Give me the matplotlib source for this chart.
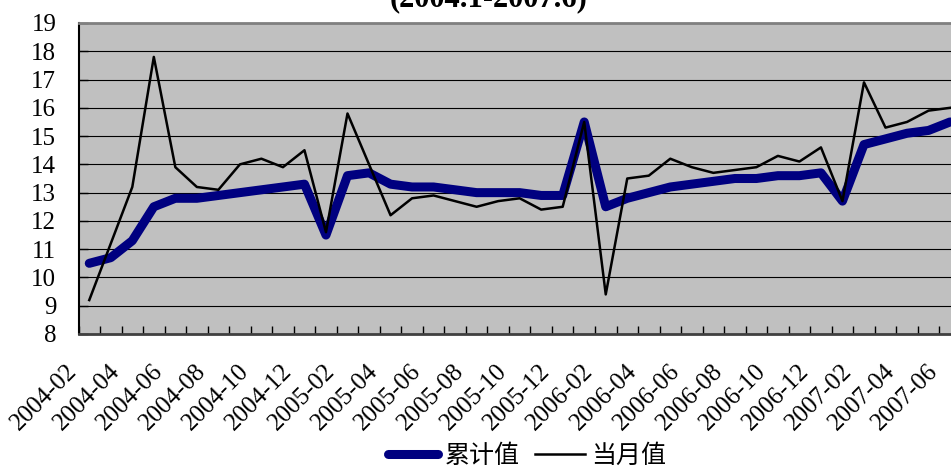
import matplotlib
matplotlib.use("Agg")
import matplotlib.pyplot as plt
import matplotlib.transforms as mtransforms
import numpy as np

# Serif for the numbers, CJK fallback for the legend text.
plt.rcParams['font.family'] = ['Liberation Serif', 'Noto Sans CJK SC']

TITLE = "(2004.1-2007.6)"
MONTHS = [
    "2004-02", "2004-03", "2004-04", "2004-05", "2004-06", "2004-07",
    "2004-08", "2004-09", "2004-10", "2004-11", "2004-12",
    "2005-01", "2005-02", "2005-03", "2005-04", "2005-05", "2005-06",
    "2005-07", "2005-08", "2005-09", "2005-10", "2005-11", "2005-12",
    "2006-01", "2006-02", "2006-03", "2006-04", "2006-05", "2006-06",
    "2006-07", "2006-08", "2006-09", "2006-10", "2006-11", "2006-12",
    "2007-01", "2007-02", "2007-03", "2007-04", "2007-05", "2007-06",
]
# Cumulative value (累计值).
CUMULATIVE = [
    10.5, 10.7, 11.3, 12.5, 12.8, 12.8, 12.9, 13.0, 13.1, 13.2, 13.3,
    11.5, 13.6, 13.7, 13.3, 13.2, 13.2, 13.1, 13.0, 13.0, 13.0, 12.9, 12.9,
    15.5, 12.5, 12.8, 13.0, 13.2, 13.3, 13.4, 13.5, 13.5, 13.6, 13.6, 13.7,
    12.7, 14.7, 14.9, 15.1, 15.2, 15.5,
]
# Monthly value (当月值).
MONTHLY = [
    9.2, 11.2, 13.2, 17.8, 13.9, 13.2, 13.1, 14.0, 14.2, 13.9, 14.5,
    11.6, 15.8, 14.0, 12.2, 12.8, 12.9, 12.7, 12.5, 12.7, 12.8, 12.4, 12.5,
    15.5, 9.4, 13.5, 13.6, 14.2, 13.9, 13.7, 13.8, 13.9, 14.3, 14.1, 14.6,
    12.7, 16.9, 15.3, 15.5, 15.9, 16.0,
]
SERIES_NAMES = ["累计值", "当月值"]
Y_TICKS = list(range(8, 20))

W, H = 951, 469


def plot():
    fig = plt.figure(figsize=(W / 100, H / 100), dpi=100)
    # Plot area runs off the right edge, like the cropped original.
    ax = fig.add_axes([78.5 / W, 1 - 334 / H, 41 * 21.52 / W, 311 / H])
    ax.set_facecolor("#C0C0C0")

    xs = np.arange(len(MONTHS))
    ax.plot(xs, CUMULATIVE, color="#000080", lw=6.5, solid_joinstyle="round",
            solid_capstyle="round", label=SERIES_NAMES[0], zorder=3)
    ax.plot(xs, MONTHLY, color="black", lw=1.8, label=SERIES_NAMES[1], zorder=4)

    ax.set_xlim(-0.5, len(MONTHS) - 0.5)
    ax.set_ylim(Y_TICKS[0], Y_TICKS[-1])
    ax.set_yticks(Y_TICKS)
    ax.yaxis.grid(True, color="black", lw=0.8)
    ax.set_axisbelow(True)
    ax.tick_params(axis="y", direction="in", length=6.5, width=1, pad=16,
                   labelsize=18)

    # Category axis: labels every other month, ticks between categories.
    ax.set_xticks(xs[::2])
    ax.set_xticklabels(MONTHS[::2], rotation=45, ha="right", fontsize=18)
    ax.set_xticks(np.arange(-0.5, len(MONTHS), 1), minor=True)
    ax.tick_params(axis="x", which="major", length=0, pad=19)
    ax.tick_params(axis="x", which="minor", direction="in", length=6, width=1)
    shift = mtransforms.ScaledTranslation(-8 / 100, 0, fig.dpi_scale_trans)
    for lab in ax.get_xticklabels():
        lab.set_transform(lab.get_transform() + shift)

    ax.spines["left"].set_color("black")
    ax.spines["left"].set_linewidth(1.5)
    ax.spines["bottom"].set_color("#404040")
    ax.spines["bottom"].set_linewidth(2)
    ax.spines["top"].set_color("#808080")
    ax.spines["top"].set_linewidth(2)
    ax.spines["right"].set_visible(False)

    fig.text(489 / W, 1 - 6 / H, TITLE, ha="center", va="baseline",
             fontsize=22, fontweight="bold")

    fig.legend(loc="center", bbox_to_anchor=(527 / W, 1 - 456 / H), ncol=2,
               frameon=False, fontsize=18, handlelength=2.0,
               handletextpad=0.25, columnspacing=0.6)

    fig.savefig("out.png", dpi=100)


if __name__ == "__main__":
    plot()
